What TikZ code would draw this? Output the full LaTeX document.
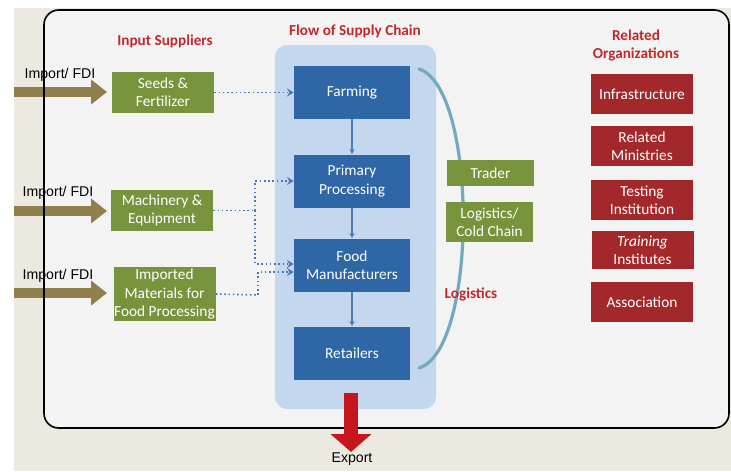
\documentclass[tikz,border=0pt]{standalone}
\usepackage{fontspec}
\setmainfont{Carlito}
\newfontfamily\arial{Liberation Sans}
\usetikzlibrary{arrows.meta}
\definecolor{beige}{HTML}{ECE9E1}
\definecolor{panel}{HTML}{F3F3F3}
\definecolor{olive}{HTML}{77933C}
\definecolor{chainblue}{HTML}{2F66A5}
\definecolor{lightblue}{HTML}{C3D7EF}
\definecolor{orgred}{HTML}{A3282B}
\definecolor{titlered}{HTML}{C0292B}
\definecolor{importbrown}{HTML}{8E7F4C}
\definecolor{dotblue}{HTML}{4A78B8}
\definecolor{exportred}{HTML}{C4161C}
\definecolor{curvecol}{HTML}{74AABD}
\begin{document}
\begin{tikzpicture}[x=0.75pt,y=-0.75pt,
  box/.style={text=white,align=center,inner sep=0pt,font=\fontsize{11.5}{13.6}\selectfont},
  greenbox/.style={box,fill=olive,minimum width=76.5pt,minimum height=30.75pt},
  bluebox/.style={box,fill=chainblue,minimum width=87pt,minimum height=39.75pt},
  redbox/.style={box,fill=orgred,minimum width=76.5pt,minimum height=30pt},
  sidebox/.style={box,fill=olive,minimum width=65.25pt},
  title/.style={text=titlered,font=\bfseries\fontsize{11.4}{13.5}\selectfont,align=center},
  importlbl/.style={font=\arial\fontsize{10.6}{12}\selectfont},
  importarrow/.style={importbrown,line width=7.5pt,-{Triangle[length=12pt,width=18pt]}},
  flow/.style={draw=chainblue!85!white,line width=0.8pt,-{Stealth[length=4pt,width=4pt]}},
  dot/.style={draw=dotblue,line width=1.2pt,dotted,-{Stealth[length=5pt,width=6pt]}},
  nodot/.style={draw=dotblue,line width=1.2pt,dotted}
]
\useasboundingbox (0,0) rectangle (731,471);
\fill[white] (0,0) rectangle (731,471);
\fill[beige] (14,8) rectangle (731,471);
\fill[panel,rounded corners=11pt] (44,10) rectangle (729,428);

% import arrows
\coordinate (i1) at (14,92);
\coordinate (i2) at (14,211);
\coordinate (i3) at (14,293);
\coordinate (i1e) at (107,92);
\coordinate (i2e) at (107,211);
\coordinate (i3e) at (107,293);
\draw[importarrow] (i1) -- (i1e);
\draw[importarrow] (i2) -- (i2e);
\draw[importarrow] (i3) -- (i3e);
\draw[line width=1.2pt,rounded corners=11pt] (44,10) rectangle (729,428);

\node[importlbl] (l1) at (60,75) {Import/ FDI};
\node[importlbl] (l2) at (58,193) {Import/ FDI};
\node[importlbl] (l3) at (58,276) {Import/ FDI};

% titles
\node[title] (t1) at (165,41) {Input Suppliers};
\node[title] (t2) at (355,31) {Flow of Supply Chain};
\node[title] (t3) at (636,45) {Related\\Organizations};

% panel
\fill[lightblue,rounded corners=9pt] (275,45) rectangle (436,409);

% suppliers
\node[greenbox] (seeds) at (163,92.5) {Seeds \&\\Fertilizer};
\node[greenbox] (mach) at (162,210.5) {Machinery \&\\Equipment};
\node[greenbox,minimum height=40.5pt] (imp) at (164.5,294) {Imported\\Materials for\\Food Processing};

% chain
\node[bluebox] (farm) at (352,92.5) {Farming};
\node[bluebox] (prim) at (352,181) {Primary\\Processing};
\node[bluebox] (food) at (352,265) {Food\\Manufacturers};
\node[bluebox] (ret) at (352,353) {Retailers};
\draw[flow] (farm) -- (prim);
\draw[flow] (prim) -- (food);
\draw[flow] (food) -- (ret);

% dotted connectors
\draw[dot] (seeds.east) -- (farm.west);
\coordinate (mj) at (255,210.5);
\coordinate (ij) at (258,295);
\draw[nodot] (mach.east) -- (mj);
\draw[dot] (mj) |- (prim.west);
\draw[dot] (mj) |- ([yshift=0.75pt]food.west);
\draw[nodot] (imp.east) -- (ij);
\draw[dot] (ij) |- ([yshift=-5.25pt]food.west);

% logistics curve
\coordinate (c1) at (419,69);
\coordinate (c2) at (419,368);
\draw[curvecol,line width=2.4pt,line cap=round] (c1) .. controls (478,88) and (478,350) .. (c2);
\node[sidebox,minimum height=19.5pt] (trader) at (490.5,173) {Trader};
\node[sidebox,minimum height=30pt] (cold) at (489.5,222) {Logistics/\\Cold Chain};
\node[title] (logi) at (471,294) {Logistics};

% related organizations
\node[redbox] (infra) at (642,94) {Infrastructure};
\node[redbox] (mini) at (642,146) {Related\\Ministries};
\node[redbox] (test) at (642,200) {Testing\\Institution};
\node[redbox,minimum height=28.5pt] (train) at (642.5,250) {\textit{Training}\\Institutes};
\node[redbox] (assoc) at (642,302) {Association};

% export
\coordinate (e1) at (351,393);
\coordinate (e2) at (351,452);
\draw[exportred,line width=11pt,-{Triangle[length=13.5pt,width=30pt]}] (e1) -- (e2);
\node[importlbl] (exp) at (352,459) {Export};
\end{tikzpicture}
\end{document}
